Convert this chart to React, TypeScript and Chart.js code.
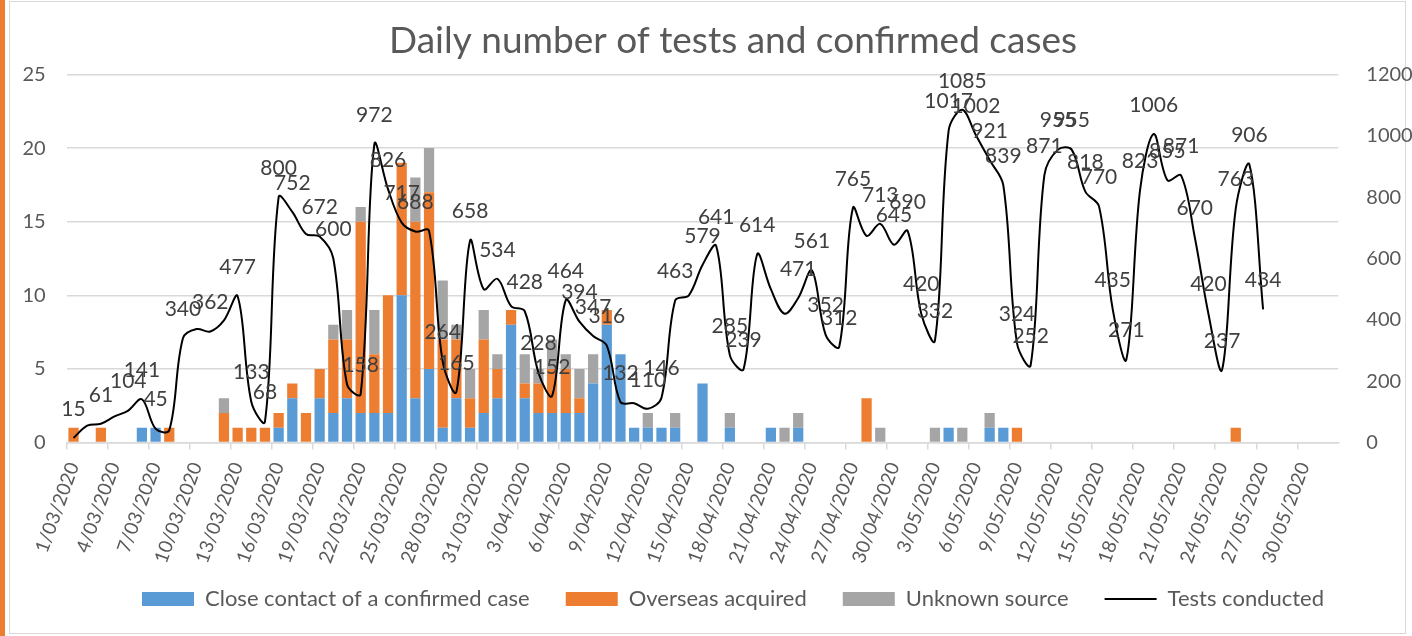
import React, { useEffect, useRef } from 'react';
import { Chart, registerables } from 'chart.js';

Chart.register(...registerables);

// Categories: 1 March 2020 to 1 June 2020
const monthSpans: [string, number][] = [['03', 31], ['04', 30], ['05', 31], ['06', 1]];
const categories: string[] = [];
monthSpans.forEach(([m, days]) => {
  for (let d = 1; d <= days; d++) categories.push(`${d}/${m}/2020`);
});

const closeContact = [
  0, 0, 0, 0, 0, 1, 1, 0, 0, 0,
  0, 0, 0, 0, 0, 1, 3, 0, 3, 2,
  3, 2, 2, 2, 10, 3, 5, 1, 3, 1,
  2, 3, 8, 3, 2, 2, 2, 2, 4, 8,
  6, 1, 1, 1, 1, 0, 4, 0, 1, 0,
  0, 1, 0, 1, 0, 0, 0, 0, 0, 0,
  0, 0, 0, 0, 1, 0, 0, 1, 1, 0,
  0, 0, 0, 0, 0, 0, 0, 0, 0, 0,
  0, 0, 0, 0, 0, 0, 0, 0, 0, 0,
  0, 0, 0,
];

const overseas = [
  1, 0, 1, 0, 0, 0, 0, 1, 0, 0,
  0, 2, 1, 1, 1, 1, 1, 2, 2, 5,
  4, 13, 4, 8, 9, 12, 12, 6, 4, 2,
  5, 2, 1, 1, 2, 3, 3, 1, 0, 1,
  0, 0, 0, 0, 0, 0, 0, 0, 0, 0,
  0, 0, 0, 0, 0, 0, 0, 0, 3, 0,
  0, 0, 0, 0, 0, 0, 0, 0, 0, 1,
  0, 0, 0, 0, 0, 0, 0, 0, 0, 0,
  0, 0, 0, 0, 0, 1, 0, 0, 0, 0,
  0, 0, 0,
];

const unknownSource = [
  0, 0, 0, 0, 0, 0, 0, 0, 0, 0,
  0, 1, 0, 0, 0, 0, 0, 0, 0, 1,
  2, 1, 3, 0, 0, 3, 3, 4, 1, 2,
  2, 1, 0, 2, 1, 2, 1, 2, 2, 0,
  0, 0, 1, 0, 1, 0, 0, 0, 1, 0,
  0, 0, 1, 1, 0, 0, 0, 0, 0, 1,
  0, 0, 0, 1, 0, 1, 0, 1, 0, 0,
  0, 0, 0, 0, 0, 0, 0, 0, 0, 0,
  0, 0, 0, 0, 0, 0, 0, 0, 0, 0,
  0, 0, 0,
];

const testsConducted: (number | null)[] = [
  15, 55, 61, 85, 104, 141, 45, 40, 340, 370,
  362, 398, 477, 133, 68, 800, 752, 680, 672, 600,
  190, 158, 972, 826, 717, 688, 690, 264, 165, 658,
  500, 534, 445, 428, 228, 152, 464, 394, 347, 316,
  132, 128, 110, 146, 463, 480, 579, 641, 285, 239,
  614, 500, 420, 471, 561, 352, 312, 765, 674, 713,
  645, 690, 420, 332, 1017, 1085, 1002, 921, 839, 324,
  252, 871, 955, 955, 818, 770, 435, 271, 823, 1006,
  855, 871, 670, 420, 237, 763, 906, 434, null, null,
  null, null, null,
];

// Days whose test count has no value label in the reference picture
const unlabelledDays = [1, 3, 7, 9, 11, 17, 20, 26, 30, 32, 41, 45, 51, 52, 58];

const FONT = 'Lato';
const TEXT = '#595959';

const lineLabels = {
  id: 'lineLabels',
  afterLayout(chart: any) {
    // let tick labels extend beyond their scale boxes (no clipping)
    Object.values(chart.scales).forEach((s: any) => {
      s._computeLabelArea = () => undefined;
    });
  },
  afterDatasetsDraw(chart: any) {
    const meta = chart.getDatasetMeta(3);
    const ctx = chart.ctx;
    ctx.save();
    ctx.font = `21px ${FONT}`;
    ctx.fillStyle = '#404040';
    ctx.textAlign = 'center';
    ctx.textBaseline = 'middle';
    meta.data.forEach((pt: any, i: number) => {
      const v = testsConducted[i];
      if (v == null || unlabelledDays.includes(i)) return;
      ctx.fillText(String(v), pt.x, pt.y - 29);
    });
    ctx.restore();
  },
};

export default function App() {
  const ref = useRef<HTMLCanvasElement | null>(null);

  useEffect(() => {
    if (!ref.current) return;
    const barCommon = {
      type: 'bar',
      borderWidth: 0,
      yAxisID: 'y',
      stack: 'cases',
      categoryPercentage: 1,
      barPercentage: 0.75,
      order: 1,
    };
    const chart = new Chart(ref.current, {
      type: 'bar',
      data: {
        labels: categories,
        datasets: [
          { ...barCommon, label: 'Close contact of a confirmed case', data: closeContact, backgroundColor: '#5B9BD5' },
          { ...barCommon, label: 'Overseas acquired', data: overseas, backgroundColor: '#ED7D31' },
          { ...barCommon, label: 'Unknown source', data: unknownSource, backgroundColor: '#A5A5A5' },
          {
            type: 'line',
            label: 'Tests conducted',
            data: testsConducted,
            borderColor: '#000000',
            backgroundColor: '#000000',
            borderWidth: 2,
            pointRadius: 0,
            pointStyle: 'line',
            tension: 0.35,
            yAxisID: 'y2',
            order: 0,
          },
        ],
      } as any,
      options: {
        responsive: false,
        animation: false,
        devicePixelRatio: 1,
        layout: { padding: { left: 54, right: 0, top: 4, bottom: 16 } },
        plugins: {
          tooltip: { enabled: false },
          title: {
            display: true,
            text: 'Daily number of tests and confirmed cases',
            color: TEXT,
            font: { family: FONT, size: 37, weight: 'normal' },
            padding: { top: 14.8, bottom: 11.3 },
          },
          legend: {
            position: 'bottom',
            labels: {
              color: TEXT,
              font: { family: FONT, size: 22 },
              usePointStyle: true,
              pointStyleWidth: 52,
              boxHeight: 14,
              padding: 36,
              sort: (a: any, b: any) => a.datasetIndex - b.datasetIndex,
              generateLabels: (chart: any) => {
                const items = (Chart.defaults.plugins.legend.labels as any).generateLabels(chart);
                items.forEach((it: any) => {
                  if (it.datasetIndex === 3) {
                    it.pointStyle = 'line';
                    it.strokeStyle = '#000000';
                    it.lineWidth = 2;
                  } else {
                    it.pointStyle = 'rect';
                    it.lineWidth = 0;
                  }
                });
                return items;
              },
            },
          },
        },
        scales: {
          x: {
            stacked: true,
            offset: true,
            afterFit: (s: any) => { s.height = 109.5; },
            grid: {
              offset: true,
              drawOnChartArea: false,
              drawTicks: true,
              tickLength: 7,
              lineWidth: 1.5,
              color: (c: any) => (c.index % 3 === 0 ? '#d9d9d9' : 'rgba(0,0,0,0)'),
            },
            border: { display: true, color: '#d9d9d9', width: 1.5 },
            ticks: {
              autoSkip: false,
              minRotation: 70,
              maxRotation: 70,
              padding: 10,
              color: TEXT,
              font: { family: FONT, size: 19 },
              callback: (_v: any, i: number) => (i % 3 === 0 ? categories[i] : ''),
            },
          },
          y: {
            stacked: true,
            position: 'left',
            min: 0,
            max: 25,
            afterFit: (s: any) => { s.width = 12.7; },
            ticks: { stepSize: 5, padding: 21, color: TEXT, font: { family: FONT, size: 20 } },
            grid: { color: '#d9d9d9', lineWidth: 1.5, drawTicks: false },
            border: { display: false },
          },
          y2: {
            position: 'right',
            min: 0,
            max: 1200,
            afterFit: (s: any) => { s.width = 73.7; },
            ticks: {
              stepSize: 200,
              padding: 28,
              color: TEXT,
              font: { family: FONT, size: 20 },
              callback: (v: any) => String(v),
            },
            grid: { display: false, drawTicks: false },
            border: { display: false },
          },
        },
      } as any,
      plugins: [lineLabels],
    });
    return () => chart.destroy();
  }, []);

  return (
    <div style={{ position: 'fixed', left: 0, top: 0, width: 1412, height: 636, background: '#ffffff', overflow: 'hidden' }}>
      <div style={{ position: 'absolute', left: 0, top: 0, width: 5, height: 636, background: '#ED7D31' }} />
      <div style={{ position: 'absolute', left: 9, top: 1, width: 1397, height: 633, border: '1px solid #d9d9d9', boxSizing: 'border-box' }} />
      <canvas ref={ref} width={1412} height={636} style={{ position: 'absolute', left: 0, top: 0 }} />
    </div>
  );
}
